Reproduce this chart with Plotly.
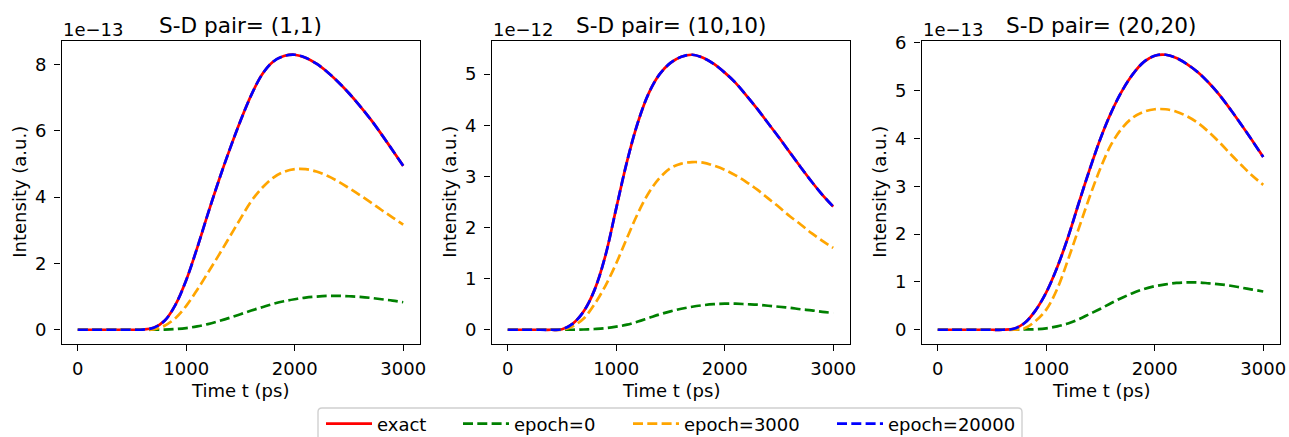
import plotly.graph_objects as go

W, H = 1289, 437
FONT = "DejaVu Sans"

# ---------------- data (intensity in units of the panel exponent) ----------------
time_ps = [0, 100, 200, 300, 400, 500, 600, 700, 800, 900, 1000,
           1100, 1200, 1300, 1400, 1500, 1600, 1700, 1800, 1900, 2000,
           2100, 2200, 2300, 2400, 2500, 2600, 2700, 2800, 2900, 3000]

# S-D pair (1,1)  [x 1e-13]
p1_exact = [0, 0, 0, 0, 0, 0, 0.005, 0.06, 0.27, 0.75, 1.50,
            2.46, 3.50, 4.50, 5.43, 6.30, 7.08, 7.70, 8.08, 8.25, 8.29,
            8.20, 8.02, 7.77, 7.47, 7.13, 6.75, 6.34, 5.89, 5.42, 4.94]
p1_epoch0 = [0, 0, 0, 0, 0, 0, 0, 0, 0.005, 0.02, 0.05,
             0.10, 0.17, 0.26, 0.36, 0.47, 0.58, 0.68, 0.78, 0.86, 0.92,
             0.97, 1.00, 1.02, 1.02, 1.01, 0.99, 0.96, 0.92, 0.88, 0.83]
p1_epoch3000 = [0, 0, 0, 0, 0, 0, 0, 0.01, 0.12, 0.35, 0.72,
                1.20, 1.72, 2.25, 2.80, 3.35, 3.88, 4.28, 4.58, 4.76, 4.84,
                4.84, 4.77, 4.64, 4.47, 4.27, 4.06, 3.84, 3.61, 3.39, 3.17]
p1_epoch20000 = [0, 0, 0, 0, 0, 0, 0.005, 0.06, 0.27, 0.75, 1.50,
                 2.46, 3.50, 4.50, 5.43, 6.30, 7.08, 7.70, 8.08, 8.25, 8.29,
                 8.20, 8.02, 7.77, 7.47, 7.13, 6.75, 6.34, 5.89, 5.42, 4.94]

# S-D pair (10,10)  [x 1e-12]
p2_exact = [0, 0, 0, 0, 0, 0.01, 0.12, 0.36, 0.78, 1.45, 2.38,
            3.30, 4.06, 4.63, 5.00, 5.22, 5.34, 5.38, 5.32, 5.20, 5.03,
            4.83, 4.58, 4.32, 4.04, 3.76, 3.47, 3.18, 2.90, 2.64, 2.41]
p2_epoch0 = [0, 0, 0, 0, 0, 0, 0, 0.005, 0.015, 0.03, 0.06,
             0.10, 0.16, 0.23, 0.30, 0.36, 0.41, 0.45, 0.48, 0.50, 0.51,
             0.51, 0.50, 0.49, 0.47, 0.45, 0.43, 0.40, 0.38, 0.35, 0.33]
p2_epoch3000 = [0, 0, 0, 0, 0, 0, 0.07, 0.22, 0.50, 0.86, 1.30,
                1.80, 2.28, 2.68, 2.97, 3.16, 3.25, 3.28, 3.27, 3.21, 3.13,
                3.02, 2.89, 2.74, 2.57, 2.40, 2.22, 2.06, 1.89, 1.74, 1.60]
p2_epoch20000 = [0, 0, 0, 0, 0, 0.01, 0.12, 0.36, 0.78, 1.45, 2.38,
                 3.30, 4.06, 4.63, 5.00, 5.22, 5.34, 5.38, 5.32, 5.20, 5.03,
                 4.83, 4.58, 4.32, 4.04, 3.76, 3.47, 3.18, 2.90, 2.64, 2.41]

# S-D pair (20,20)  [x 1e-13]
p3_exact = [0, 0, 0, 0, 0, 0, 0, 0.02, 0.14, 0.40, 0.78,
            1.30, 1.93, 2.65, 3.35, 4.00, 4.55, 5.00, 5.35, 5.60, 5.73,
            5.75, 5.68, 5.55, 5.38, 5.16, 4.90, 4.60, 4.28, 3.95, 3.61]
p3_epoch0 = [0, 0, 0, 0, 0, 0, 0, 0, 0.005, 0.01, 0.03,
             0.07, 0.13, 0.22, 0.33, 0.44, 0.56, 0.67, 0.77, 0.85, 0.91,
             0.95, 0.98, 0.99, 0.99, 0.97, 0.95, 0.92, 0.88, 0.84, 0.80]
p3_epoch3000 = [0, 0, 0, 0, 0, 0, 0, 0, 0.03, 0.18, 0.42,
                0.85, 1.46, 2.12, 2.78, 3.38, 3.88, 4.22, 4.44, 4.56, 4.61,
                4.61, 4.56, 4.46, 4.32, 4.13, 3.91, 3.67, 3.44, 3.22, 3.03]
p3_epoch20000 = [0, 0, 0, 0, 0, 0, 0, 0.02, 0.14, 0.40, 0.78,
                 1.30, 1.93, 2.65, 3.35, 4.00, 4.55, 5.00, 5.35, 5.60, 5.73,
                 5.75, 5.68, 5.55, 5.38, 5.16, 4.90, 4.60, 4.28, 3.95, 3.61]

series_names = ["exact", "epoch=0", "epoch=3000", "epoch=20000"]
panel_titles = ["S-D pair= (1,1)", "S-D pair= (10,10)", "S-D pair= (20,20)"]
panel_exponents = ["1e\u221213", "1e\u221212", "1e\u221213"]
x_tick_vals = [0, 1000, 2000, 3000]
x_label = "Time t (ps)"
y_label = "Intensity (a.u.)"

panels = [
    [p1_exact, p1_epoch0, p1_epoch3000, p1_epoch20000],
    [p2_exact, p2_epoch0, p2_epoch3000, p2_epoch20000],
    [p3_exact, p3_epoch0, p3_epoch3000, p3_epoch20000],
]

# ---------------- styles / layout ----------------
colors = ["red", "green", "orange", "blue"]
dashes = ["solid", "10px,4.3px", "10px,4.3px", "10px,4.3px"]
y_dticks = [2, 1, 1]
LW = 2.7

ax_left_px = [61.5, 491.5, 921.5]
ax_right_px = [419.5, 849.5, 1279.5]
ax_top_px, ax_bot_px = 41.0, 343.5


def fx(px):
    return px / W


def fy(py):
    return 1 - py / H


fig = go.Figure()
legend_ids = ["legend", "legend2", "legend3", "legend4"]

for i, series in enumerate(panels):
    xa = "x" if i == 0 else f"x{i + 1}"
    ya = "y" if i == 0 else f"y{i + 1}"
    for k, ys in enumerate(series):
        fig.add_trace(go.Scatter(
            x=time_ps, y=ys, mode="lines", name=series_names[k],
            line=dict(color=colors[k], width=LW, dash=dashes[k],
                      shape="spline", smoothing=1.0),
            xaxis=xa, yaxis=ya, showlegend=(i == 0), legend=legend_ids[k],
            hoverinfo="skip",
        ))

axis_common = dict(
    showline=True, linecolor="black", linewidth=1.44, mirror=True,
    ticks="outside", ticklen=6.3, tickwidth=1.44, tickcolor="black",
    showgrid=False, zeroline=False, automargin=False,
    tickfont=dict(family=FONT, size=18, color="black"),
)

layout = dict(
    width=W, height=H, margin=dict(l=0, r=0, t=0, b=0, autoexpand=False),
    paper_bgcolor="white", plot_bgcolor="white", template="none",
    font=dict(family=FONT, size=18, color="black"),
    showlegend=True,
)

t_span = max(time_ps) - min(time_ps)
x_range = [min(time_ps) - 0.05 * t_span, max(time_ps) + 0.05 * t_span]

annotations = []
for i, series in enumerate(panels):
    xs = "xaxis" if i == 0 else f"xaxis{i + 1}"
    ys_ = "yaxis" if i == 0 else f"yaxis{i + 1}"
    xa = "x" if i == 0 else f"x{i + 1}"
    ya = "y" if i == 0 else f"y{i + 1}"
    ymax = max(max(s) for s in series)
    ymin = min(min(s) for s in series)
    pad = 0.05 * (ymax - ymin)
    layout[xs] = dict(axis_common, domain=[fx(ax_left_px[i]), fx(ax_right_px[i])],
                      range=x_range, tickmode="array", tickvals=x_tick_vals,
                      anchor=ya, ticklabelstandoff=2)
    layout[ys_] = dict(axis_common, domain=[fy(ax_bot_px), fy(ax_top_px)],
                       range=[ymin - pad, ymax + pad], tickmode="linear",
                       tick0=0, dtick=y_dticks[i], anchor=xa, ticklabelstandoff=4)
    cx = (ax_left_px[i] + ax_right_px[i]) / 2
    annotations.append(dict(text=panel_titles[i], x=fx(cx), y=fy(25),
                            xref="paper", yref="paper", xanchor="center",
                            yanchor="middle", showarrow=False,
                            font=dict(family=FONT, size=21.6, color="black")))
    annotations.append(dict(text=panel_exponents[i], x=fx(ax_left_px[i] - 1), y=fy(29.5),
                            xref="paper", yref="paper", xanchor="left",
                            yanchor="middle", showarrow=False,
                            font=dict(family=FONT, size=18, color="black")))
    annotations.append(dict(text=x_label, x=fx(cx), y=fy(390),
                            xref="paper", yref="paper", xanchor="center",
                            yanchor="middle", showarrow=False,
                            font=dict(family=FONT, size=18, color="black")))
    annotations.append(dict(text=y_label, x=fx(ax_left_px[i] - 42), y=fy((ax_top_px + ax_bot_px) / 2),
                            xref="paper", yref="paper", xanchor="center",
                            yanchor="middle", showarrow=False, textangle=-90,
                            font=dict(family=FONT, size=18, color="black")))

layout["annotations"] = annotations

# legend frame (matplotlib style, rounded corners)
lx0, lx1, ly0, ly1, r = 318.0, 1022.0, 408.0, 446.0, 4.0
path = (f"M {fx(lx0 + r)},{fy(ly0)} L {fx(lx1 - r)},{fy(ly0)} "
        f"Q {fx(lx1)},{fy(ly0)} {fx(lx1)},{fy(ly0 + r)} "
        f"L {fx(lx1)},{fy(ly1 - r)} Q {fx(lx1)},{fy(ly1)} {fx(lx1 - r)},{fy(ly1)} "
        f"L {fx(lx0 + r)},{fy(ly1)} Q {fx(lx0)},{fy(ly1)} {fx(lx0)},{fy(ly1 - r)} "
        f"L {fx(lx0)},{fy(ly0 + r)} Q {fx(lx0)},{fy(ly0)} {fx(lx0 + r)},{fy(ly0)} Z")
layout["shapes"] = [dict(type="path", path=path, xref="paper", yref="paper",
                         line=dict(color="#d0d0d0", width=1.4),
                         fillcolor="white", layer="above")]

# legend text starts (px) in the reference
legend_text_px = [377, 514, 684, 888]
LEG_ITEMW = 46
for k, lid in enumerate(legend_ids):
    layout[lid] = dict(x=fx(legend_text_px[k] - LEG_ITEMW - 10), xanchor="left",
                       y=fy(442.5), yanchor="bottom", xref="paper", yref="paper",
                       orientation="h", bgcolor="rgba(0,0,0,0)", borderwidth=0,
                       font=dict(family=FONT, size=18, color="black"),
                       itemwidth=LEG_ITEMW)

fig.update_layout(**layout)
fig.write_html(
    "out.html",
    config={"displayModeBar": False},
    post_script="document.body.style.margin='0';document.body.style.overflow='hidden';",
)
